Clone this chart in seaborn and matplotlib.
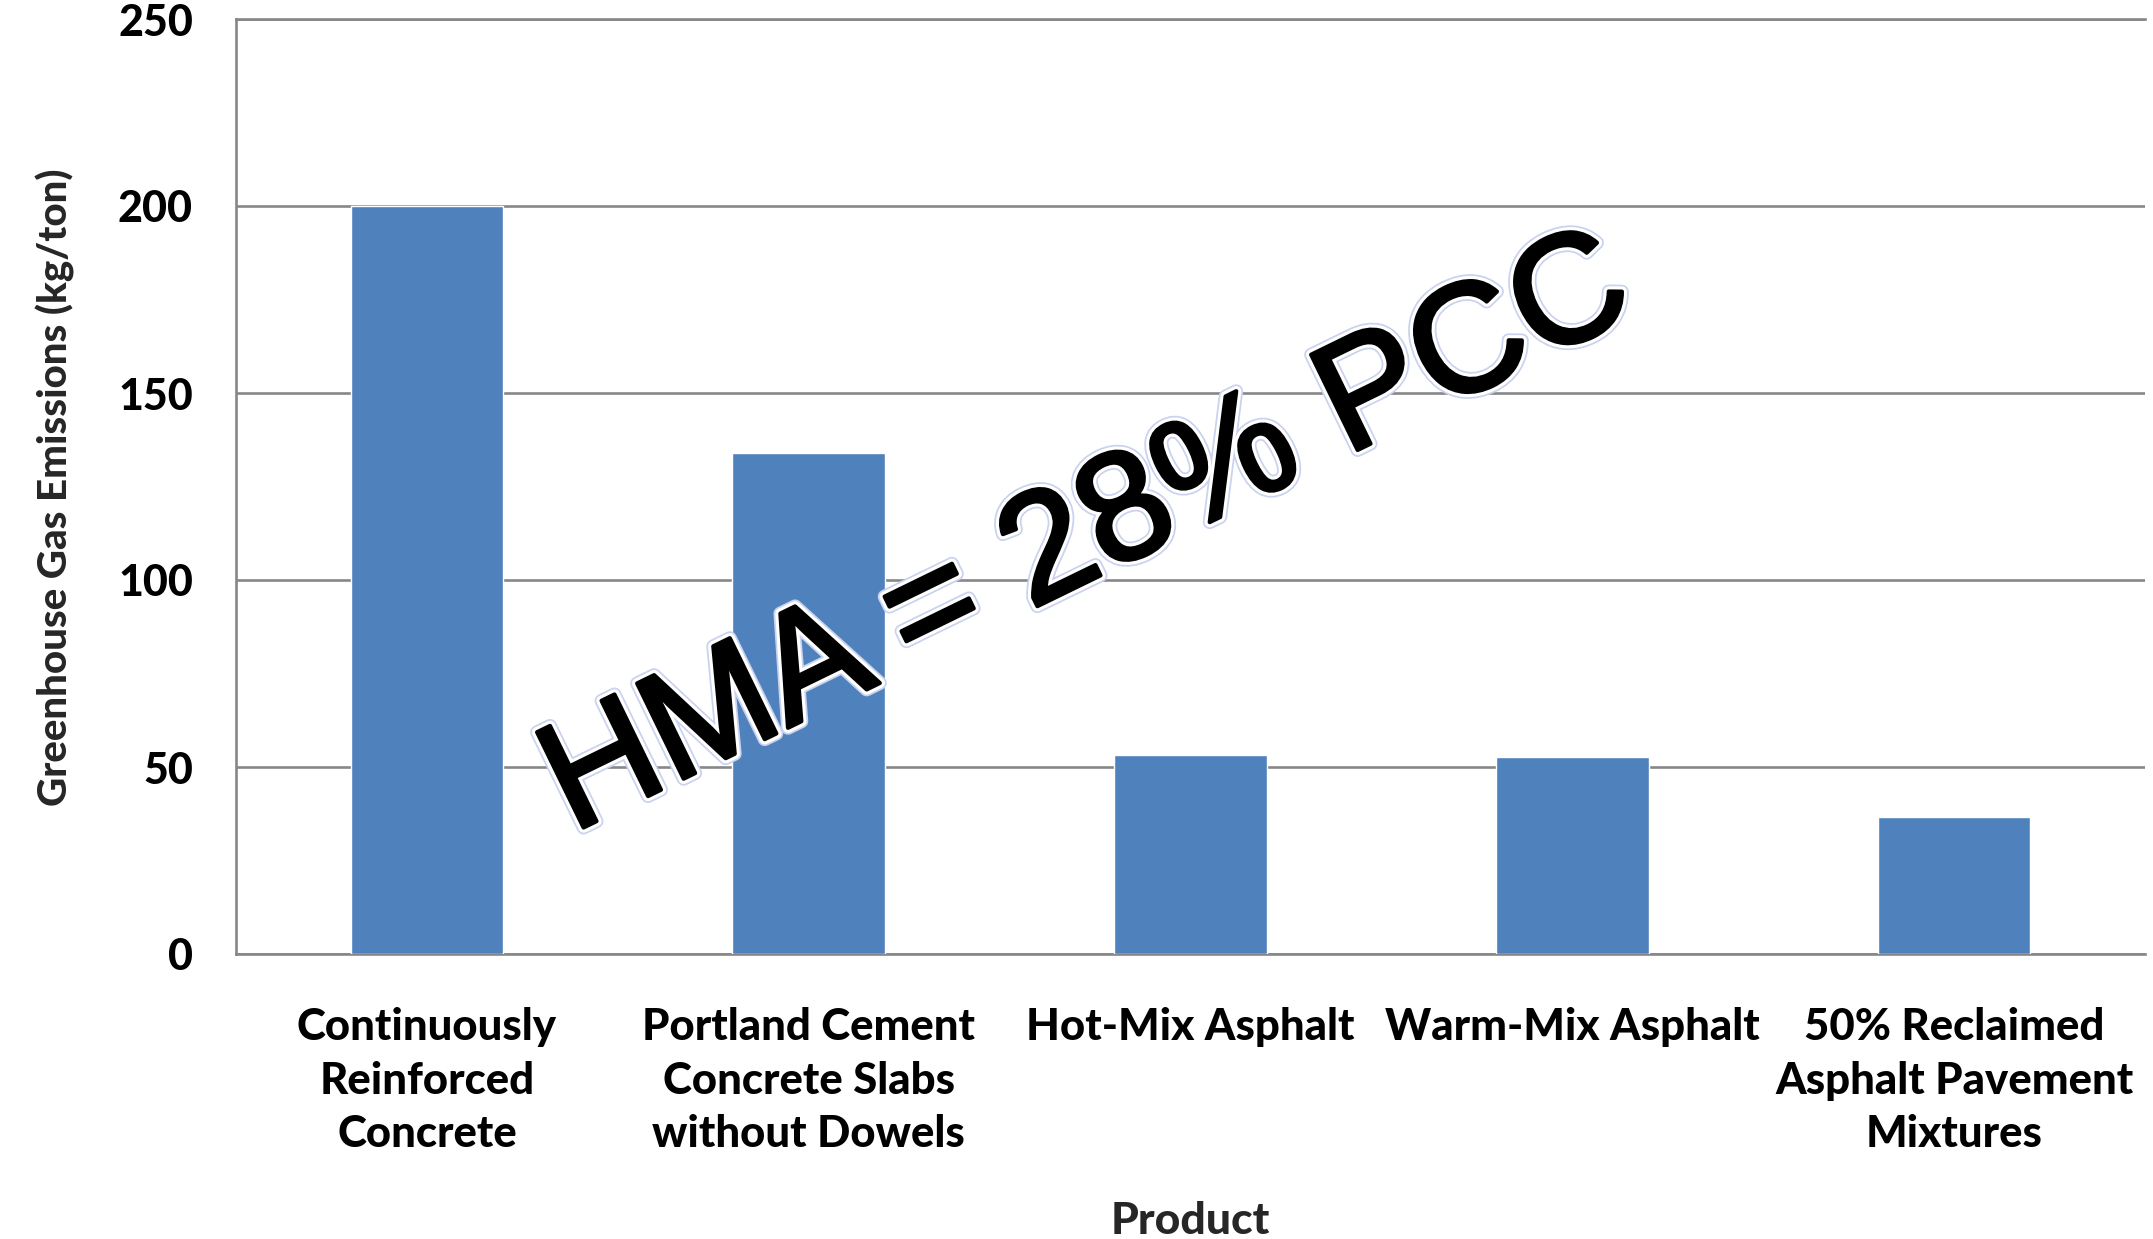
import matplotlib
matplotlib.use("Agg")
import matplotlib.pyplot as plt
import matplotlib.patheffects as pe
import pandas as pd
import seaborn as sns

# Greenhouse gas emissions per ton of paving product
products = [
    "Continuously\nReinforced\nConcrete",
    "Portland Cement\nConcrete Slabs\nwithout Dowels",
    "Hot-Mix Asphalt",
    "Warm-Mix Asphalt",
    "50% Reclaimed\nAsphalt Pavement\nMixtures",
]
emissions = [200.0, 134.0, 53.3, 52.7, 36.6]
y_ticks = [0, 50, 100, 150, 200, 250]

df = pd.DataFrame({"Product": products, "Emissions": emissions})

sns.set_theme(style="white")
plt.rcParams["font.family"] = ["Lato", "DejaVu Sans"]

W, H = 2153, 1239
fig = plt.figure(figsize=(W / 100, H / 100), dpi=100)
ax = fig.add_axes([236 / W, 1 - 954 / H, (2145 - 236) / W, (954 - 19) / H])

sns.barplot(data=df, x="Product", y="Emissions", color="#4F81BD",
            saturation=1, width=0.4, ax=ax, zorder=3)

grid_c = "#878787"
ax.set_ylim(0, 250)
ax.set_yticks(y_ticks)
ax.yaxis.grid(True, color=grid_c, linewidth=1.9, zorder=0)
ax.set_axisbelow(True)
for side in ["left", "bottom", "top"]:
    ax.spines[side].set_color(grid_c)
    ax.spines[side].set_linewidth(1.9)
ax.spines["right"].set_visible(False)

ax.tick_params(axis="y", which="major", direction="out", length=9,
               width=1.9, color=grid_c, pad=22, labelsize=31)
ax.tick_params(axis="x", length=0, pad=38, labelsize=31.5)
for lab in ax.get_yticklabels() + ax.get_xticklabels():
    lab.set_fontweight(900)
    lab.set_color("black")
for lab in ax.get_xticklabels():
    lab.set_linespacing(1.42)
    lab.set_horizontalalignment("center")
    lab.set_verticalalignment("top")

ax.set_xlabel("Product", fontsize=32, fontweight=900, labelpad=0)
ax.xaxis.set_label_coords(0.5, (954 - 1221) / (954 - 19), transform=ax.transAxes)
ax.xaxis.label.set_verticalalignment("center")
ax.set_ylabel("Greenhouse Gas Emissions (kg/ton)", fontsize=29, fontweight=900)
ax.yaxis.set_label_coords((55 - 236) / (2145 - 236), (954 - 487) / (954 - 19),
                          transform=ax.transAxes)
ax.yaxis.label.set_verticalalignment("center")

# Overlay annotation: heavy black lettering with a pale halo
fig.text(1088 / W, 1 - 537 / H, "HMA = 28% PCC", fontsize=111,
         family=["Liberation Sans", "DejaVu Sans"],
         color="black", rotation=26, ha="center", va="center",
         rotation_mode="anchor",
         path_effects=[pe.Stroke(linewidth=10, foreground="#c9d2ee"),
                       pe.Stroke(linewidth=7.5, foreground="white"),
                       pe.Stroke(linewidth=3, foreground="black"),
                       pe.Normal()], zorder=10)

fig.savefig("out.png", dpi=100, facecolor="white")
